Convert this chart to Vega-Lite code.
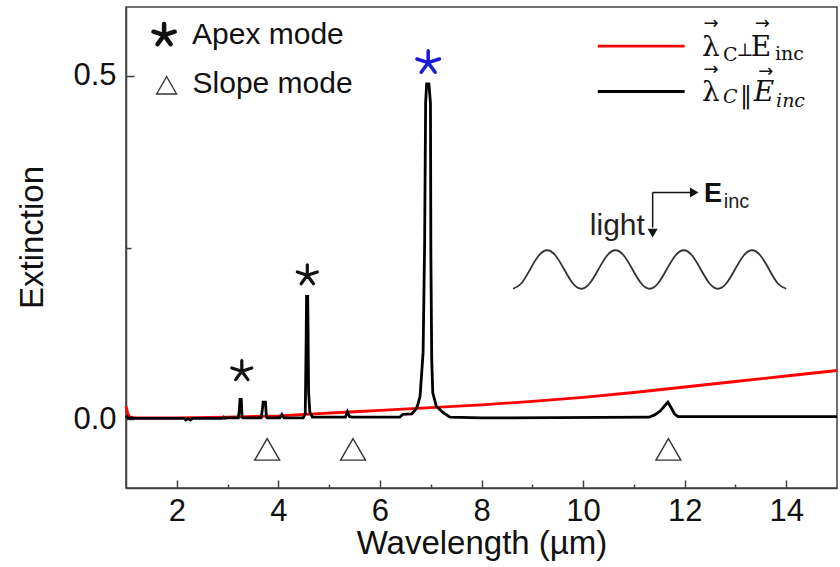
{
  "$schema": "https://vega.github.io/schema/vega-lite/v6.json",
  "width": 711,
  "height": 481,
  "autosize": "none",
  "padding": {"left": 126, "top": 7, "right": 3, "bottom": 79},
  "background": "white",
  "config": {
    "view": {"stroke": "#404040", "strokeWidth": 1.5},
    "axis": {
      "grid": false,
      "domainColor": "#404040",
      "domainWidth": 1.5,
      "tickColor": "#404040",
      "tickWidth": 1.5,
      "labelFont": "Liberation Sans",
      "labelFontSize": 31,
      "labelColor": "#111111",
      "labelOverlap": false,
      "labelFlush": false,
      "titleFont": "Liberation Sans",
      "titleFontSize": 33,
      "titleFontWeight": "normal",
      "titleColor": "#111111"
    }
  },
  "datasets": {
    "perp": [
      {"wl": 1.0, "ext": 0.019}, {"wl": 1.03, "ext": 0.010}, {"wl": 1.06, "ext": 0.004}, {"wl": 1.15, "ext": 0.002},
      {"wl": 2.0, "ext": 0.002}, {"wl": 3.0, "ext": 0.003}, {"wl": 4.0, "ext": 0.005}, {"wl": 4.7, "ext": 0.008},
      {"wl": 5.5, "ext": 0.011}, {"wl": 6.0, "ext": 0.013}, {"wl": 7.0, "ext": 0.017}, {"wl": 8.0, "ext": 0.021},
      {"wl": 9.0, "ext": 0.026}, {"wl": 10.0, "ext": 0.032}, {"wl": 11.0, "ext": 0.039}, {"wl": 12.0, "ext": 0.047},
      {"wl": 13.0, "ext": 0.055}, {"wl": 14.0, "ext": 0.063}, {"wl": 15.0, "ext": 0.071}
    ],
    "par": [
      {"wl": 1.0, "ext": 0.005}, {"wl": 1.04, "ext": 0.002}, {"wl": 1.2, "ext": 0.0012}, {"wl": 2.15, "ext": 0.0012},
      {"wl": 2.18, "ext": -0.001}, {"wl": 2.22, "ext": 0.001}, {"wl": 2.27, "ext": -0.001}, {"wl": 2.31, "ext": 0.0012},
      {"wl": 2.9, "ext": 0.0012}, {"wl": 2.92, "ext": 0.003}, {"wl": 2.95, "ext": 0.0015}, {"wl": 3.0, "ext": 0.002},
      {"wl": 3.21, "ext": 0.002}, {"wl": 3.23, "ext": 0.012}, {"wl": 3.245, "ext": 0.029}, {"wl": 3.27, "ext": 0.029},
      {"wl": 3.285, "ext": 0.004}, {"wl": 3.30, "ext": 0.002}, {"wl": 3.66, "ext": 0.002}, {"wl": 3.685, "ext": 0.014},
      {"wl": 3.70, "ext": 0.025}, {"wl": 3.745, "ext": 0.025}, {"wl": 3.765, "ext": 0.004}, {"wl": 3.78, "ext": 0.002},
      {"wl": 4.03, "ext": 0.002}, {"wl": 4.07, "ext": 0.007}, {"wl": 4.11, "ext": 0.002}, {"wl": 4.49, "ext": 0.002},
      {"wl": 4.53, "ext": 0.008}, {"wl": 4.548, "ext": 0.12}, {"wl": 4.555, "ext": 0.179}, {"wl": 4.578, "ext": 0.179},
      {"wl": 4.585, "ext": 0.128}, {"wl": 4.595, "ext": 0.04}, {"wl": 4.62, "ext": 0.01}, {"wl": 4.67, "ext": 0.003},
      {"wl": 5.32, "ext": 0.003}, {"wl": 5.36, "ext": 0.011}, {"wl": 5.40, "ext": 0.004}, {"wl": 5.45, "ext": 0.003},
      {"wl": 6.39, "ext": 0.003}, {"wl": 6.45, "ext": 0.007}, {"wl": 6.63, "ext": 0.008}, {"wl": 6.70, "ext": 0.014},
      {"wl": 6.74, "ext": 0.020}, {"wl": 6.79, "ext": 0.033}, {"wl": 6.85, "ext": 0.097}, {"wl": 6.88, "ext": 0.255},
      {"wl": 6.90, "ext": 0.461}, {"wl": 6.92, "ext": 0.488}, {"wl": 6.965, "ext": 0.488}, {"wl": 6.995, "ext": 0.46},
      {"wl": 7.003, "ext": 0.24}, {"wl": 7.02, "ext": 0.087}, {"wl": 7.04, "ext": 0.039}, {"wl": 7.11, "ext": 0.019},
      {"wl": 7.24, "ext": 0.010}, {"wl": 7.38, "ext": 0.003}, {"wl": 8.0, "ext": 0.002}, {"wl": 11.3, "ext": 0.003},
      {"wl": 11.4, "ext": 0.006}, {"wl": 11.52, "ext": 0.012}, {"wl": 11.6, "ext": 0.019}, {"wl": 11.67, "ext": 0.025},
      {"wl": 11.74, "ext": 0.016}, {"wl": 11.8, "ext": 0.008}, {"wl": 11.87, "ext": 0.004}, {"wl": 13.0, "ext": 0.004},
      {"wl": 15.0, "ext": 0.004}
    ],
    "wave": [
      {"wl": 8.620, "ext": 0.190}, {"wl": 8.788, "ext": 0.198}, {"wl": 8.956, "ext": 0.218}, {"wl": 9.124, "ext": 0.238},
      {"wl": 9.293, "ext": 0.246}, {"wl": 9.461, "ext": 0.238}, {"wl": 9.629, "ext": 0.218}, {"wl": 9.797, "ext": 0.198},
      {"wl": 9.965, "ext": 0.190}, {"wl": 10.133, "ext": 0.198}, {"wl": 10.301, "ext": 0.218}, {"wl": 10.469, "ext": 0.238},
      {"wl": 10.638, "ext": 0.246}, {"wl": 10.806, "ext": 0.238}, {"wl": 10.974, "ext": 0.218}, {"wl": 11.142, "ext": 0.198},
      {"wl": 11.310, "ext": 0.190}, {"wl": 11.478, "ext": 0.198}, {"wl": 11.646, "ext": 0.218}, {"wl": 11.814, "ext": 0.238},
      {"wl": 11.983, "ext": 0.246}, {"wl": 12.151, "ext": 0.238}, {"wl": 12.319, "ext": 0.218}, {"wl": 12.487, "ext": 0.198},
      {"wl": 12.655, "ext": 0.190}, {"wl": 12.823, "ext": 0.198}, {"wl": 12.991, "ext": 0.218}, {"wl": 13.159, "ext": 0.238},
      {"wl": 13.328, "ext": 0.246}, {"wl": 13.496, "ext": 0.238}, {"wl": 13.664, "ext": 0.218}, {"wl": 13.832, "ext": 0.198},
      {"wl": 14.000, "ext": 0.190}
    ],
    "segs": [
      {"k": "legR", "wl": 10.29, "wl2": 12.0, "ext": 0.543, "ext2": 0.543},
      {"k": "legB", "wl": 10.29, "wl2": 12.0, "ext": 0.477, "ext2": 0.477},
      {"k": "arrow", "wl": 11.37, "wl2": 12.15, "ext": 0.330, "ext2": 0.330},
      {"k": "arrow", "wl": 11.37, "wl2": 11.37, "ext": 0.330, "ext2": 0.279}
    ],
    "heads": [
      {"dir": "down", "wl": 11.37, "ext": 0.271},
      {"dir": "right", "wl": 12.19, "ext": 0.330}
    ],
    "slope": [
      {"wl": 3.78, "ext": -0.0437}, {"wl": 5.47, "ext": -0.0437}, {"wl": 11.68, "ext": -0.0437}
    ],
    "slopeLegend": [{"wl": 1.80, "ext": 0.486}],
    "apex": [{"wl": 3.28, "ext": 0.070}, {"wl": 4.57, "ext": 0.2096}],
    "apexLegend": [{"wl": 1.75, "ext": 0.559}],
    "apexBlue": [{"wl": 6.95, "ext": 0.519}],
    "texts": [
      {"g": "leg", "t": "Apex mode", "wl": 2.30, "ext": 0.546},
      {"g": "leg", "t": "Slope mode", "wl": 2.31, "ext": 0.475},
      {"g": "light", "t": "light", "wl": 11.217, "ext": 0.268},
      {"g": "E", "t": "E", "wl": 12.38, "ext": 0.316},
      {"g": "inc", "t": "inc", "wl": 12.77, "ext": 0.307},
      {"g": "mm", "t": "λ", "wl": 12.34, "ext": 0.529},
      {"g": "mm", "t": "E", "wl": 13.30, "ext": 0.529},
      {"g": "mm", "t": "λ", "wl": 12.34, "ext": 0.463},
      {"g": "ms", "t": "C", "wl": 12.754, "ext": 0.522},
      {"g": "ms", "t": "inc", "wl": 13.78, "ext": 0.523},
      {"g": "perp", "t": "⊥", "wl": 13.02, "ext": 0.529},
      {"g": "para", "t": "‖", "wl": 13.09, "ext": 0.461},
      {"g": "mmi", "t": "E", "wl": 13.36, "ext": 0.463},
      {"g": "msi", "t": "C", "wl": 12.754, "ext": 0.461},
      {"g": "msi", "t": "inc", "wl": 13.80, "ext": 0.454},
      {"g": "vec", "t": "→", "wl": 12.52, "ext": 0.575},
      {"g": "vec", "t": "→", "wl": 13.53, "ext": 0.575},
      {"g": "vec", "t": "→", "wl": 12.52, "ext": 0.509},
      {"g": "vec", "t": "→", "wl": 13.60, "ext": 0.505}
    ]
  },
  "resolve": {"axis": {"x": "independent", "y": "independent"}},
  "encoding": {
    "x": {"field": "wl", "type": "quantitative", "scale": {"domain": [1, 15], "nice": false, "zero": false}, "axis": null},
    "y": {"field": "ext", "type": "quantitative", "scale": {"domain": [-0.1, 0.6], "nice": false, "zero": false}, "axis": null}
  },
  "layer": [
    {
      "data": {"name": "perp"},
      "mark": {"type": "line", "color": "#ff0000", "strokeWidth": 2.8},
      "encoding": {
        "x": {"field": "wl", "type": "quantitative", "scale": {"domain": [1, 15], "nice": false, "zero": false},
          "axis": {"orient": "bottom", "values": [3, 5, 7, 9, 11, 13], "labels": false, "domain": false, "tickSize": -4, "title": null}},
        "y": {"field": "ext", "type": "quantitative", "scale": {"domain": [-0.1, 0.6], "nice": false, "zero": false},
          "axis": {"orient": "left", "values": [0.25], "labels": false, "domain": false, "tickSize": -5, "title": null}}
      }
    },
    {
      "data": {"name": "par"},
      "mark": {"type": "line", "color": "#000000", "strokeWidth": 2.8},
      "encoding": {
        "x": {"field": "wl", "type": "quantitative", "scale": {"domain": [1, 15], "nice": false, "zero": false},
          "axis": {"orient": "bottom", "values": [2, 4, 6, 8, 10, 12, 14], "format": "d", "tickSize": -8, "labelPadding": 16,
            "title": "Wavelength (µm)", "titleY": 65, "titleBaseline": "alphabetic"}},
        "y": {"field": "ext", "type": "quantitative", "scale": {"domain": [-0.1, 0.6], "nice": false, "zero": false},
          "axis": {"orient": "left", "values": [0, 0.5], "format": ".1f", "tickSize": -8, "labelPadding": 18,
            "title": "Extinction", "titleX": -84, "titleY": 230, "titleBaseline": "alphabetic", "titleAngle": -90}}
      }
    },
    {
      "data": {"name": "wave"},
      "mark": {"type": "line", "color": "#333333", "strokeWidth": 1.8, "interpolate": "natural"}
    },
    {
      "data": {"name": "segs"},
      "transform": [{"filter": "datum.k === 'legR'"}],
      "mark": {"type": "rule", "color": "#ff0000", "strokeWidth": 2.8},
      "encoding": {"x2": {"field": "wl2"}, "y2": {"field": "ext2"}}
    },
    {
      "data": {"name": "segs"},
      "transform": [{"filter": "datum.k === 'legB'"}],
      "mark": {"type": "rule", "color": "#000000", "strokeWidth": 2.8},
      "encoding": {"x2": {"field": "wl2"}, "y2": {"field": "ext2"}}
    },
    {
      "data": {"name": "segs"},
      "transform": [{"filter": "datum.k === 'arrow'"}],
      "mark": {"type": "rule", "color": "#111111", "strokeWidth": 1.5},
      "encoding": {"x2": {"field": "wl2"}, "y2": {"field": "ext2"}}
    },
    {
      "data": {"name": "heads"},
      "mark": {"type": "point", "filled": true, "color": "#111111", "size": 100, "opacity": 1},
      "encoding": {
        "shape": {"field": "dir", "type": "nominal", "scale": {"domain": ["down", "right"], "range": ["triangle-down", "triangle-right"]}, "legend": null}
      }
    },
    {
      "data": {"name": "slope"},
      "mark": {"type": "point", "shape": "triangle-up", "filled": false, "stroke": "#333333", "strokeWidth": 1.4, "size": 620, "opacity": 1}
    },
    {
      "data": {"name": "slopeLegend"},
      "mark": {"type": "point", "shape": "triangle-up", "filled": false, "stroke": "#333333", "strokeWidth": 1.3, "size": 400, "opacity": 1}
    },
    {
      "data": {"name": "apex"},
      "mark": {"type": "point", "shape": "M0,0L0,-1M0,0L0.951,-0.309M0,0L0.588,0.809M0,0L-0.588,0.809M0,0L-0.951,-0.309",
        "filled": false, "stroke": "#111111", "strokeWidth": 3.2, "size": 441, "opacity": 1, "strokeCap": "round"}
    },
    {
      "data": {"name": "apexLegend"},
      "mark": {"type": "point", "shape": "M0,0L0,-1M0,0L0.951,-0.309M0,0L0.588,0.809M0,0L-0.588,0.809M0,0L-0.951,-0.309",
        "filled": false, "stroke": "#111111", "strokeWidth": 4.5, "size": 500, "opacity": 1, "strokeCap": "round"}
    },
    {
      "data": {"name": "apexBlue"},
      "mark": {"type": "point", "shape": "M0,0L0,-1M0,0L0.951,-0.309M0,0L0.588,0.809M0,0L-0.588,0.809M0,0L-0.951,-0.309",
        "filled": false, "stroke": "#1a1ad6", "strokeWidth": 3.5, "size": 560, "opacity": 1, "strokeCap": "round"}
    },
    {
      "data": {"name": "texts"},
      "transform": [{"filter": "datum.g === 'leg'"}],
      "mark": {"type": "text", "font": "Liberation Sans", "fontSize": 30, "align": "left", "baseline": "alphabetic", "color": "#111111"},
      "encoding": {"text": {"field": "t"}}
    },
    {
      "data": {"name": "texts"},
      "transform": [{"filter": "datum.g === 'light'"}],
      "mark": {"type": "text", "font": "Liberation Sans", "fontSize": 30, "align": "right", "baseline": "alphabetic", "color": "#222222"},
      "encoding": {"text": {"field": "t"}}
    },
    {
      "data": {"name": "texts"},
      "transform": [{"filter": "datum.g === 'E'"}],
      "mark": {"type": "text", "font": "Liberation Sans", "fontSize": 27, "fontWeight": "bold", "align": "left", "baseline": "alphabetic", "color": "#111111"},
      "encoding": {"text": {"field": "t"}}
    },
    {
      "data": {"name": "texts"},
      "transform": [{"filter": "datum.g === 'inc'"}],
      "mark": {"type": "text", "font": "Liberation Sans", "fontSize": 20, "align": "left", "baseline": "alphabetic", "color": "#222222"},
      "encoding": {"text": {"field": "t"}}
    },
    {
      "data": {"name": "texts"},
      "transform": [{"filter": "datum.g === 'mm'"}],
      "mark": {"type": "text", "font": "DejaVu Serif", "fontSize": 28, "align": "left", "baseline": "alphabetic", "color": "#111111"},
      "encoding": {"text": {"field": "t"}}
    },
    {
      "data": {"name": "texts"},
      "transform": [{"filter": "datum.g === 'ms'"}],
      "mark": {"type": "text", "font": "DejaVu Serif", "fontSize": 19, "align": "left", "baseline": "alphabetic", "color": "#111111"},
      "encoding": {"text": {"field": "t"}}
    },
    {
      "data": {"name": "texts"},
      "transform": [{"filter": "datum.g === 'perp'"}],
      "mark": {"type": "text", "font": "DejaVu Serif", "fontSize": 18, "align": "left", "baseline": "alphabetic", "color": "#111111"},
      "encoding": {"text": {"field": "t"}}
    },
    {
      "data": {"name": "texts"},
      "transform": [{"filter": "datum.g === 'para'"}],
      "mark": {"type": "text", "font": "DejaVu Serif", "fontSize": 24, "align": "left", "baseline": "alphabetic", "color": "#111111"},
      "encoding": {"text": {"field": "t"}}
    },
    {
      "data": {"name": "texts"},
      "transform": [{"filter": "datum.g === 'mmi'"}],
      "mark": {"type": "text", "font": "DejaVu Serif", "fontSize": 28, "fontStyle": "italic", "align": "left", "baseline": "alphabetic", "color": "#111111"},
      "encoding": {"text": {"field": "t"}}
    },
    {
      "data": {"name": "texts"},
      "transform": [{"filter": "datum.g === 'msi'"}],
      "mark": {"type": "text", "font": "DejaVu Serif", "fontSize": 19, "fontStyle": "italic", "align": "left", "baseline": "alphabetic", "color": "#111111"},
      "encoding": {"text": {"field": "t"}}
    },
    {
      "data": {"name": "texts"},
      "transform": [{"filter": "datum.g === 'vec'"}],
      "mark": {"type": "text", "font": "DejaVu Sans", "fontSize": 18, "align": "center", "baseline": "middle", "color": "#111111"},
      "encoding": {"text": {"field": "t"}}
    }
  ]
}
